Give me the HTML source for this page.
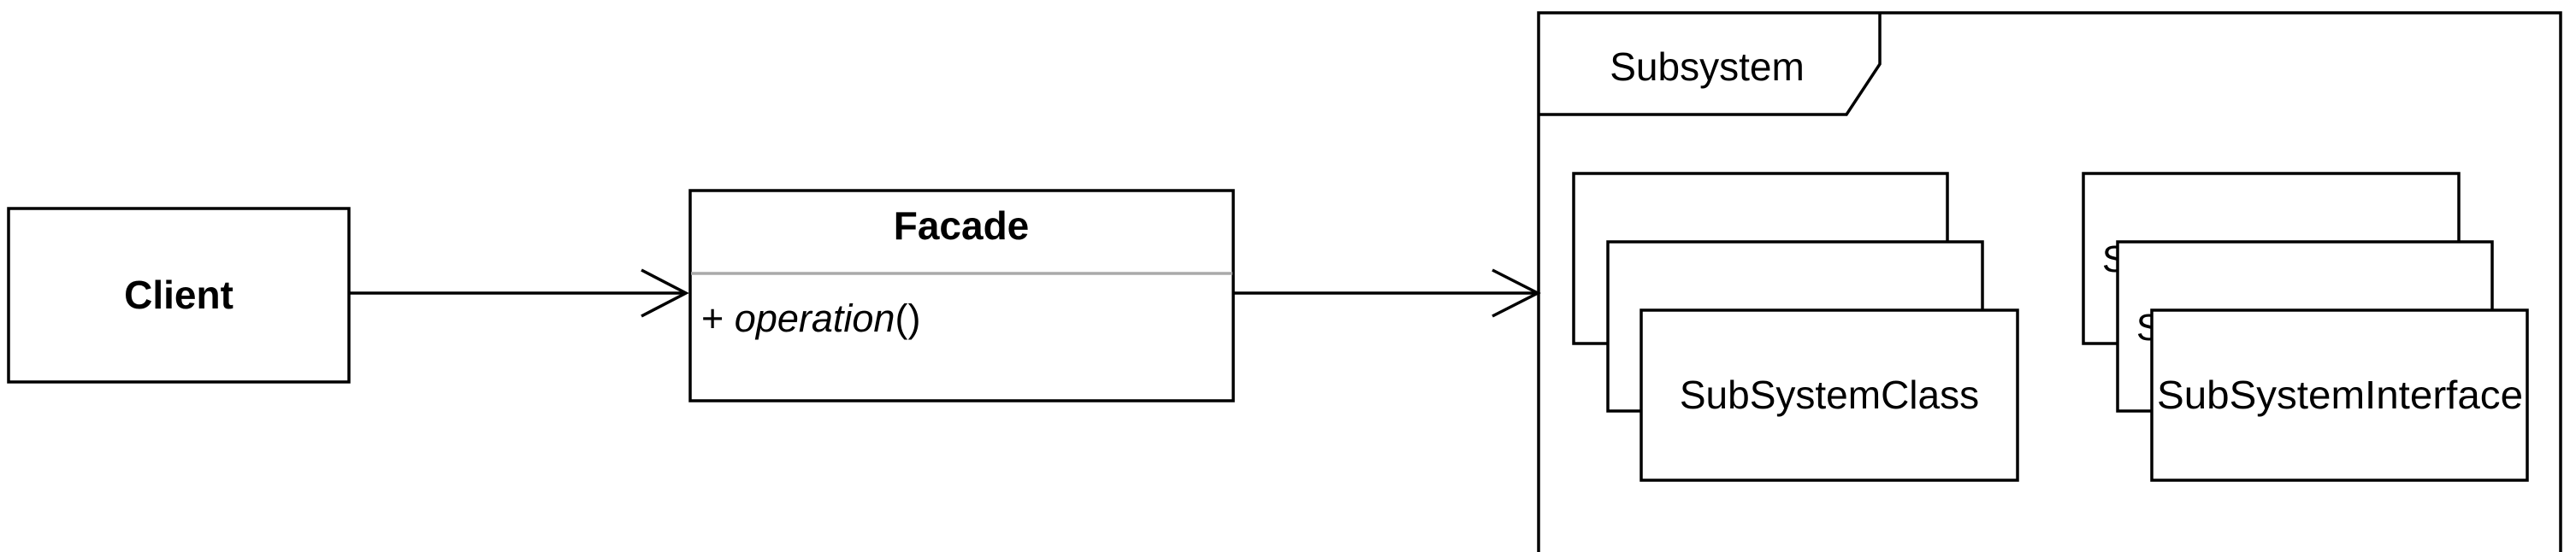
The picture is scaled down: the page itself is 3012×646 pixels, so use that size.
<!DOCTYPE html>
<html><head><meta charset="utf-8"><style>
html,body{margin:0;padding:0;background:#fff;}
svg{display:block;}
text{font-family:"Liberation Sans",Arial,sans-serif;fill:#000;}
</style></head><body>
<svg width="3012" height="646" viewBox="0 0 3012 646" xmlns="http://www.w3.org/2000/svg">
<g stroke="#000" stroke-width="3.5" fill="#fff">
<rect x="10" y="244" width="398" height="203"/>
<rect x="807" y="223" width="635" height="246"/>
</g>
<line x1="808" y1="320" x2="1441" y2="320" stroke="#aaa" stroke-width="3.5"/>
<text x="209" y="361" font-size="46" font-weight="bold" text-anchor="middle">Client</text>
<text x="1124" y="280" font-size="46" font-weight="bold" text-anchor="middle">Facade</text>
<text x="820" y="388" font-size="45">+ <tspan font-style="italic">operation</tspan>()</text>
<g stroke="#000" stroke-width="3.5" fill="none">
<line x1="408" y1="343" x2="802" y2="343"/>
<polyline points="750,316 802,343 750,370"/>
<line x1="1442" y1="343" x2="1798" y2="343"/>
<polyline points="1745,316 1798,343 1745,370"/>
<path d="M1799,646 L1799,15 L2994,15 L2994,646"/>
<polyline points="1799,134 2159,134 2198,75 2198,15"/>
</g>
<text x="1996" y="94" font-size="46" text-anchor="middle">Subsystem</text>
<g stroke="#000" stroke-width="3.5" fill="#fff">
<rect x="1840" y="203" width="437" height="199"/>
<rect x="1880" y="283" width="438" height="198"/>
<rect x="1919" y="363" width="440" height="199"/>
<rect x="2436" y="203" width="439" height="199"/>
</g>
<text x="2656" y="318" font-size="44" text-anchor="middle">SubSystemInterface</text>
<rect x="2476" y="283" width="438" height="198" stroke="#000" stroke-width="3.5" fill="#fff"/>
<text x="2696" y="398" font-size="44" text-anchor="middle">SubSystemInterface</text>
<rect x="2516" y="363" width="439" height="199" stroke="#000" stroke-width="3.5" fill="#fff"/>
<text x="2139" y="478" font-size="46" text-anchor="middle">SubSystemClass</text>
<text x="2736" y="478" font-size="46" text-anchor="middle" textLength="428" lengthAdjust="spacingAndGlyphs">SubSystemInterface</text>
</svg>
</body></html>
